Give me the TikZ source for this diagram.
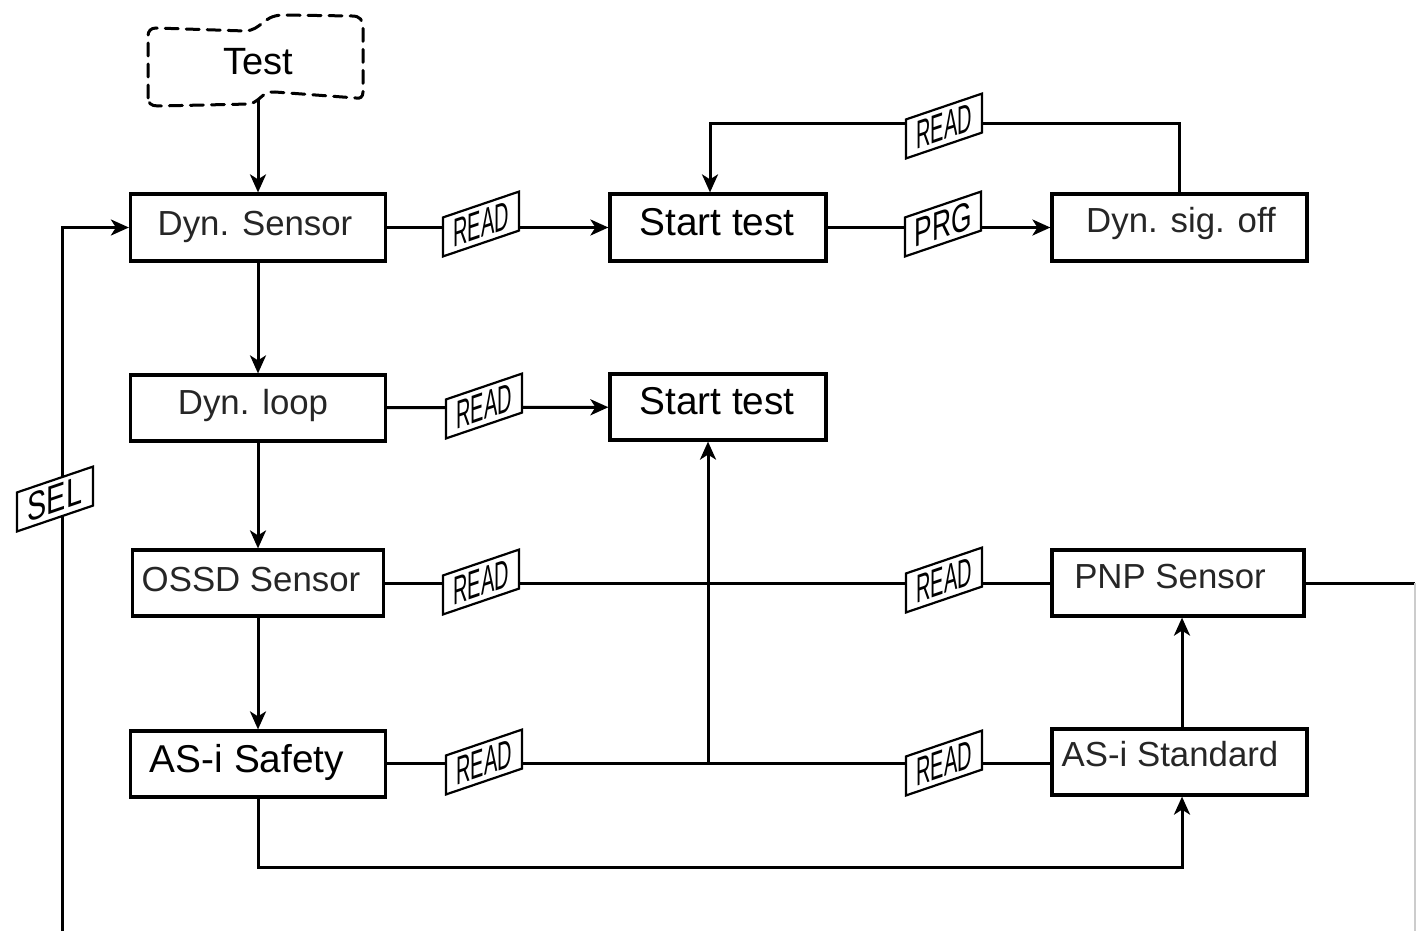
\documentclass[tikz,border=0pt]{standalone}
\usepackage{fontspec}
\setmainfont{Liberation Sans}
\usetikzlibrary{arrows.meta,calc}

\begin{document}
\begin{tikzpicture}[x=0.5pt,y=-0.5pt,
  box/.style={draw, line width=1.6pt, minimum height=33pt, inner sep=0pt},
  lab/.style={font=\fontsize{17.4}{20}\selectfont, text=black!85, anchor=base, yshift=-4pt},
  biglab/.style={font=\fontsize{19.4}{22}\selectfont, text=black, anchor=base, yshift=-4pt},
  tag/.style={draw, fill=white, line width=1.1pt, yslant=0.34, minimum width=38pt,
              minimum height=19.5pt, inner sep=0pt, font=\fontsize{20}{22}\selectfont},
  conn/.style={line width=1.5pt},
  arr/.style={conn, -{Stealth[length=9pt,width=8pt,inset=2.5pt]}},
  dashline/.style={line width=1.5pt, dash pattern=on 6.5pt off 4pt, line cap=round},
]
\useasboundingbox (0,0) rectangle (1416,931);

% ---- boxes ----
\node[box, minimum width=127.5pt, minimum height=33.5pt] (dsens)  at (258,227.5) {};
\node[box, minimum width=108pt,   minimum height=33.5pt] (start1) at (718,227.5) {};
\node[box, minimum width=127.5pt, minimum height=33.5pt] (dsig)   at (1179.5,227.5) {};
\node[box, minimum width=127.5pt] (dloop)  at (258,408) {};
\node[box, minimum width=108pt]   (start2) at (718,407) {};
\node[box, minimum width=125.5pt] (ossd)   at (258,583) {};
\node[box, minimum width=126pt]   (pnp)    at (1178,583) {};
\node[box, minimum width=127.5pt] (asis)   at (258,764) {};
\node[box, minimum width=127.5pt] (asistd) at (1179.5,762) {};

% ---- box texts ----
\node[lab]    (l-dsens)  at (255,227.5)  {Dyn. Sensor};
\node[biglab] (l-start1) at (717,227.5)  {Start test};
\node[lab]    (l-dsig)   at (1181,224)   {Dyn. sig. off};
\node[lab]    (l-dloop)  at (253,406)    {Dyn. loop};
\node[biglab] (l-start2) at (717,406)    {Start test};
\node[lab]    (l-ossd)   at (251,583)    {OSSD Sensor};
\node[lab]    (l-pnp)    at (1170,580)   {PNP Sensor};
\node[biglab] (l-asis)   at (247,764)    {AS-i Safety};
\node[lab]    (l-asistd) at (1170,758)   {AS-i Standard};

% ---- dashed start symbol ----
\draw[dashline] (148,98) -- (148,36) .. controls (148,31) and (151,28) .. (156,28)
  -- (245,31) .. controls (262,30) and (262,16) .. (282,15) -- (352,16)
  .. controls (360,16) and (363,20) .. (363,28) -- (363,92)
  .. controls (363,97) and (360,99) .. (356,98) -- (275,92)
  .. controls (262,91) and (262,100) .. (250,104) -- (158,106)
  .. controls (151,106) and (148,103) .. (148,98) -- cycle;
\node[font=\fontsize{19}{22}\selectfont, anchor=base] (test) at (258,75) {Test};
\coordinate (testbot) at (258,100);

% ---- helper points ----
\coordinate (lt)   at (710,123);
\coordinate (jn)   at (708,763);
\coordinate (selb) at (62,931);
\coordinate (re)   at (1415,583);
\coordinate (reb)  at (1415,931);

% ---- connectors ----
\draw[arr] (testbot) -- (dsens.north);
\draw[arr] (dsens) -- (start1);
\draw[arr] (start1) -- (dsig);
\draw[arr] (dsig.north) |- (lt) -- (lt |- start1.north);
\draw[arr] (dsens) -- (dloop);
\draw[arr] (dloop) -- (start2);
\draw[arr] (dloop) -- (ossd);
\draw[conn] (ossd) -- (pnp);
\draw[arr] (ossd) -- (asis);
\draw[conn] (asis.east |- jn) -- (asistd.west |- jn);
\draw[arr] (jn) -- (jn |- start2.south);
\draw[arr] (asistd.north -| 1182,0) -- (pnp.south -| 1182,0);
\draw[arr] (asis.south) -- ++(0,69) -| (asistd.south -| 1182,0);
\draw[arr] (selb) |- (dsens.west);
\draw[conn] (pnp.east) -- (re);
\draw[black!20, line width=0.6pt] (re) -- (reb);

% ---- tags ----
\node[tag] (t1) at (481,224) {\scalebox{0.5}[1]{READ}};
\node[tag] (t2) at (943,224) {\scalebox{0.66}[1]{PRG}};
\node[tag] (t3) at (944,126) {\scalebox{0.5}[1]{READ}};
\node[tag] (t4) at (484,406) {\scalebox{0.5}[1]{READ}};
\node[tag] (t5) at (481,582) {\scalebox{0.5}[1]{READ}};
\node[tag] (t6) at (944,580) {\scalebox{0.5}[1]{READ}};
\node[tag] (t7) at (484,762) {\scalebox{0.5}[1]{READ}};
\node[tag] (t8) at (944,763) {\scalebox{0.5}[1]{READ}};
\node[tag] (sel) at (55,499) {\scalebox{0.72}[1]{SEL}};
\end{tikzpicture}
\end{document}
